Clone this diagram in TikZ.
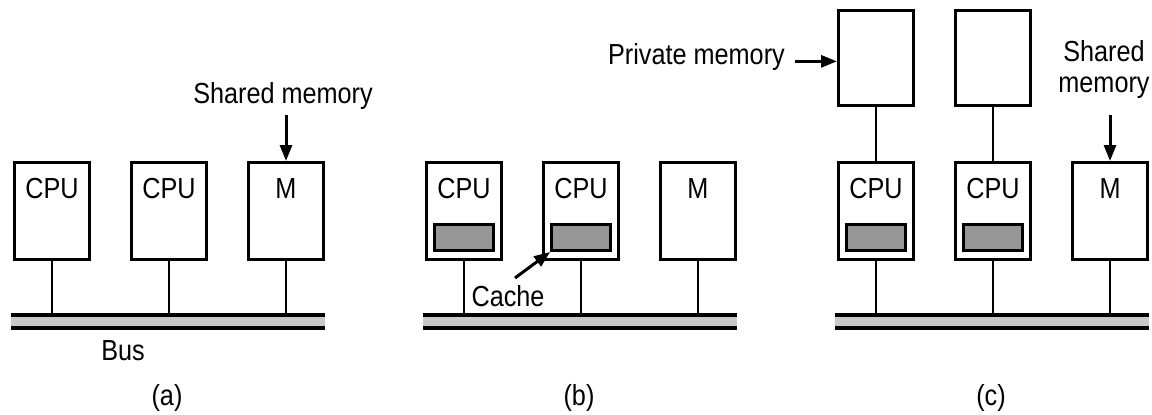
\documentclass[tikz,border=0pt]{standalone}
\usepackage{fontspec}
\setmainfont{Liberation Sans}
\usepackage{graphicx}
\usetikzlibrary{arrows.meta}
% slightly condensed lettering
\newcommand\narrowtxt[1]{\scalebox{0.87}[1]{#1}}
\definecolor{busgray}{HTML}{C8C8C8}
\definecolor{cachegray}{HTML}{969696}

\begin{document}
\begin{tikzpicture}[x=1pt,y=-1pt,
  unit/.style={draw, line width=3pt, minimum width=75pt, minimum height=97pt,
               inner sep=0pt, anchor=north west, fill=white},
  cache/.style={draw, line width=2.8pt, fill=cachegray, minimum width=59pt,
                minimum height=26pt, inner sep=0pt},
  busbar/.style={fill=busgray, minimum width=314pt, minimum height=13pt, inner sep=0pt},
  busline/.style={line width=3.5pt},
  stem/.style={line width=2.4pt},
  tag/.style={font=\fontsize{29}{32}\selectfont, inner sep=0pt},
  arr/.style={line width=3pt, -{Triangle[length=16pt,width=12pt]}}
]
\useasboundingbox (0,0) rectangle (1152,415);

% three panels: processors, memory and a bus each
\foreach \p/\o in {a/0,b/412,c/824}{
  \node[unit] (\p1) at (\o+13,161) {};
  \node[unit] (\p2) at (\o+130,161) {};
  \node[unit] (\p3) at (\o+247,161) {};
  \node[busbar] (bus\p) at (\o+168,321.5) {};
  \draw[busline] (bus\p.north west) -- (bus\p.north east)
                 (bus\p.south west) -- (bus\p.south east);
  \foreach \i in {1,2,3}
    \draw[stem] (\p\i.south) -- (\p\i.south |- bus\p.north);
  \node[tag, anchor=base] (lab\p) at (\o+167,405) {\narrowtxt{(\p)}};
  \node[tag, anchor=base] (\p1t) at ([yshift=-37pt]\p1.north) {\narrowtxt{CPU}};
  \node[tag, anchor=base] (\p2t) at ([yshift=-37pt]\p2.north) {\narrowtxt{CPU}};
  \node[tag, anchor=base] (\p3t) at ([yshift=-37pt]\p3.north) {\narrowtxt{M}};
}

% caches in (b) and (c)
\foreach \p in {b,c}{
  \node[cache, anchor=south] (\p1c) at ([yshift=9pt]\p1.south) {};
  \node[cache, anchor=south] (\p2c) at ([yshift=9pt]\p2.south) {};
}

% private memories in (c)
\node[unit, minimum height=95pt] (c1m) at (837,9) {};
\node[unit, minimum height=95pt] (c2m) at (954,9) {};
\draw[stem] (c1m.south) -- (c1.north);
\draw[stem] (c2m.south) -- (c2.north);

% labels and pointers
\node[tag, anchor=base] (busa-t) at (123,360) {\narrowtxt{Bus}};

\node[tag, anchor=base] (shma) at (283,103) {\narrowtxt{Shared memory}};
\draw[arr, shorten <=6pt] (a3.north |- shma.south) -- (a3.north);

\node[tag, anchor=base] (cachet) at (508,306) {\narrowtxt{Cache}};
\coordinate (cachetail) at (515,278);
\draw[arr] (cachetail) -- (b2c.south west);

\node[tag, anchor=base east] (pmem) at (785,64) {\narrowtxt{Private memory}};
\draw[arr, shorten <=10pt] (pmem.mid east) -- (pmem.mid east -| c1m.west);

\node[tag, anchor=base] (shmc1) at (1104,61) {\narrowtxt{Shared}};
\node[tag, anchor=base] (shmc2) at (1104,92) {\narrowtxt{memory}};
\draw[arr, shorten <=17pt] (c3.north |- shmc2.south) -- (c3.north);
\end{tikzpicture}
\end{document}
